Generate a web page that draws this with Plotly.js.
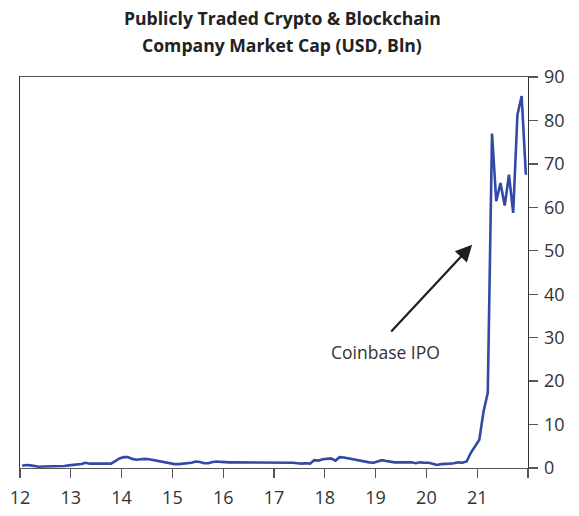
<!DOCTYPE html>
<html>
<head>
<meta charset="utf-8">
<script src="https://cdn.plot.ly/plotly-3.0.1.min.js"></script>
<style>html,body{margin:0;padding:0;background:#fff;}#chart{width:579px;height:516px;}</style>
</head>
<body>
<div id="chart"></div>
<script>
// Monthly market cap, USD bn, Jan 2012 .. Dec 2021
const years = [2012, 2013, 2014, 2015, 2016, 2017, 2018, 2019, 2020, 2021];
const v2012 = [0.5, 0.7, 0.6, 0.4, 0.3, 0.35, 0.35, 0.35, 0.35, 0.4, 0.45, 0.6];
const v2013 = [0.7, 0.8, 0.9, 1.2, 1.0, 1.0, 1.0, 1.0, 1.0, 1.0, 1.6, 2.2];
const v2014 = [2.5, 2.5, 2.1, 1.9, 2.0, 2.1, 2.0, 1.8, 1.6, 1.4, 1.2, 1.0];
const v2015 = [0.9, 0.9, 1.0, 1.2, 1.2, 1.5, 1.4, 1.1, 1.1, 1.4, 1.5, 1.4];
const v2016 = [1.3, 1.3, 1.3, 1.3, 1.3, 1.3, 1.3, 1.2, 1.3, 1.3, 1.3, 1.2];
const v2017 = [1.3, 1.2, 1.3, 1.2, 1.2, 1.1, 1.0, 1.1, 1.0, 1.8, 1.7, 2.0];
const v2018 = [2.1, 2.2, 1.7, 2.5, 2.4, 2.2, 2.0, 1.8, 1.6, 1.4, 1.3, 1.2];
const v2019 = [1.5, 1.8, 1.6, 1.4, 1.3, 1.3, 1.3, 1.2, 1.3, 1.1, 1.3, 1.2];
const v2020 = [1.2, 1.0, 0.7, 0.9, 0.9, 1.0, 1.1, 1.3, 1.2, 1.5, 3.5, 5.0];
const v2021 = [6.5, 13, 17.3, 77, 61.4, 65.6, 60.4, 67.5, 58.7, 81.3, 85.6, 67.5];
const byYear = [v2012, v2013, v2014, v2015, v2016, v2017, v2018, v2019, v2020, v2021];

const xTickVals = [12, 13, 14, 15, 16, 17, 18, 19, 20, 21, 22];
const xTickText = ['12', '13', '14', '15', '16', '17', '18', '19', '20', '21', ''];
const yTickVals = [0, 10, 20, 30, 40, 50, 60, 70, 80, 90];
const titleLines = ['Publicly Traded Crypto & Blockchain', 'Company Market Cap (USD, Bln)'];

const xs = [], ys = [];
byYear.forEach((arr, yi) => {
  arr.forEach((v, m) => {
    xs.push((years[yi] - 2000) + (m + 0.5) / 12);
    ys.push(v);
  });
});

const font = "'Open Sans', 'DejaVu Sans', sans-serif";

const data = [{
  x: xs, y: ys, type: 'scatter', mode: 'lines',
  line: {color: '#3249a6', width: 2.6},
  hoverinfo: 'skip'
}];

const layout = {
  width: 579, height: 516,
  margin: {l: 20, r: 51, t: 77, b: 48},
  paper_bgcolor: '#fff', plot_bgcolor: '#fff',
  showlegend: false,
  font: {family: font, color: '#333'},
  xaxis: {
    range: [12, 22], tickvals: xTickVals, ticktext: xTickText,
    showgrid: false, zeroline: false,
    showline: true, linecolor: '#555', linewidth: 1.3, mirror: true,
    ticks: 'outside', ticklen: 9, tickcolor: '#555', tickwidth: 1.3,
    ticklabelstandoff: 4,
    tickfont: {family: font, size: 18, color: '#333'}
  },
  yaxis: {
    range: [0, 90], tickvals: yTickVals, side: 'right',
    showgrid: false, zeroline: false,
    showline: true, linecolor: '#333', linewidth: 1.3, mirror: true,
    ticks: 'outside', ticklen: 9, tickcolor: '#555', tickwidth: 1.3,
    ticklabelstandoff: 2,
    tickfont: {family: font, size: 18, color: '#333'}
  },
  annotations: [
    {
      x: 0.5167, y: 1.1509, xref: 'paper', yref: 'paper',
      xanchor: 'center', yanchor: 'middle', showarrow: false,
      text: '<b>' + titleLines[0] + '</b>',
      font: {family: font, size: 17.6, color: '#222'}
    },
    {
      x: 0.5167, y: 1.0818, xref: 'paper', yref: 'paper',
      xanchor: 'center', yanchor: 'middle', showarrow: false,
      text: '<b>' + titleLines[1] + '</b>',
      font: {family: font, size: 17.6, color: '#222'}
    },
    {
      x: 20.9, y: 51.4, xref: 'x', yref: 'y',
      ax: 19.28, ay: 31.1, axref: 'x', ayref: 'y',
      text: '', showarrow: true, arrowhead: 2, arrowsize: 1.5,
      arrowwidth: 2.2, arrowcolor: '#1e1e1e'
    },
    {
      x: 19.185, y: 26.7, xref: 'x', yref: 'y',
      text: 'Coinbase IPO', showarrow: false,
      font: {family: font, size: 17.5, color: '#333'}
    }
  ]
};

Plotly.newPlot('chart', data, layout, {displayModeBar: false, staticPlot: true});
</script>
</body>
</html>
